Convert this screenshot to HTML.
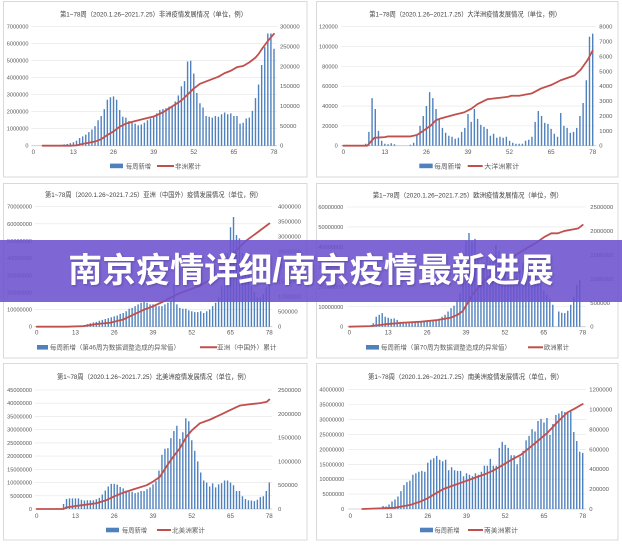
<!DOCTYPE html>
<html><head><meta charset="utf-8">
<style>
html,body{margin:0;padding:0;background:#fff;}
#wrap{position:relative;width:622px;height:545px;overflow:hidden;background:#fff;}
svg{position:absolute;left:0;top:0;}
svg text{font-family:"Liberation Sans","Noto Sans CJK SC",sans-serif;}
.t{font-size:6.6px;fill:#404040;}
.l{font-size:5.6px;fill:#595959;text-anchor:end;}
.r{font-size:5.9px;fill:#595959;text-anchor:start;}
.x{font-size:6.2px;fill:#595959;text-anchor:middle;}
.g{font-size:6.3px;fill:#595959;}
#banner{position:absolute;left:0;top:240px;width:622px;height:62px;background:rgba(108,82,206,0.88);
color:#fff;font-family:"Liberation Sans","Noto Sans CJK SC",sans-serif;font-weight:bold;font-size:34px;
line-height:62px;text-align:center;letter-spacing:0px;text-shadow:1px 1px 2px rgba(40,20,90,0.35);}
</style></head><body>
<div id="wrap">
<svg width="622" height="545" viewBox="0 0 622 545" xmlns="http://www.w3.org/2000/svg">
<g fill="none" stroke="#d9d9d9" stroke-width="1">
<rect x="3.5" y="1.5" width="303.5" height="175.5"/>
<rect x="316.5" y="1.5" width="301.5" height="175.5"/>
<rect x="3.5" y="183.5" width="303.5" height="174.5"/>
<rect x="316.5" y="183.5" width="301.5" height="174.5"/>
<rect x="3.5" y="363.5" width="303.5" height="176.5"/>
<rect x="316.5" y="363.5" width="301.5" height="176.5"/>
</g>
<g id="geo"></g>

<!-- titles -->
<text class="t" x="60" y="16.3" textLength="187" lengthAdjust="spacingAndGlyphs">第1~78周（2020.1.26~2021.7.25）非洲疫情发展情况（单位，例）</text>
<text class="t" x="369.3" y="16.3" textLength="191.7" lengthAdjust="spacingAndGlyphs">第1~78周（2020.1.26~2021.7.25）大洋洲疫情发展情况（单位，例）</text>
<text class="t" x="45" y="197" textLength="217" lengthAdjust="spacingAndGlyphs">第1~78周（2020.1.26~2021.7.25）亚洲（中国外）疫情发展情况（单位，例）</text>
<text class="t" x="372.7" y="197.3" textLength="190" lengthAdjust="spacingAndGlyphs">第1~78周（2020.1.26~2021.7.25）欧洲疫情发展情况（单位，例）</text>
<text class="t" x="57" y="379" textLength="193" lengthAdjust="spacingAndGlyphs">第1~78周（2020.1.26~2021.7.25）北美洲疫情发展情况（单位，例）</text>
<text class="t" x="368" y="379" textLength="195" lengthAdjust="spacingAndGlyphs">第1~78周（2020.1.26~2021.7.25）南美洲疫情发展情况（单位，例）</text>

<!-- panel 1 axes -->
<g class="l" transform="translate(28.5,2)">
<text y="26.7">7000000</text><text y="43.7">6000000</text><text y="60.7">5000000</text><text y="77.7">4000000</text><text y="94.7">3000000</text><text y="111.7">2000000</text><text y="128.7">1000000</text><text y="145.7">0</text></g>
<g class="r" transform="translate(280,2)">
<text y="26.7">300000</text><text y="46.5">250000</text><text y="66.4">200000</text><text y="86.2">150000</text><text y="106">100000</text><text y="125.9">50000</text><text y="145.7">0</text></g>
<g class="x" transform="translate(0,154.2)">
<text x="33.3">0</text><text x="73.4">13</text><text x="113.5">26</text><text x="153.7">39</text><text x="193.8">52</text><text x="233.9">65</text><text x="274">78</text></g>

<!-- panel 2 axes -->
<g class="l" transform="translate(337.7,2)">
<text y="26.7">120000</text><text y="46.5">100000</text><text y="66.4">80000</text><text y="86.2">60000</text><text y="106">40000</text><text y="125.9">20000</text><text y="145.7">0</text></g>
<g class="r" transform="translate(599.3,2)">
<text y="26.7">8000</text><text y="41.6">7000</text><text y="56.5">6000</text><text y="71.3">5000</text><text y="86.2">4000</text><text y="101.1">3000</text><text y="116">2000</text><text y="130.8">1000</text><text y="145.7">0</text></g>
<g class="x" transform="translate(0,154.2)">
<text x="343.3">0</text><text x="384.9">13</text><text x="426.4">26</text><text x="468">39</text><text x="509.5">52</text><text x="551.1">65</text><text x="592.7">78</text></g>

<!-- panel 3 axes -->
<g class="l" transform="translate(32,2)">
<text y="206.7">70000000</text><text y="223.8">60000000</text><text y="241">50000000</text><text y="258.1">40000000</text><text y="275.3">30000000</text><text y="292.4">20000000</text><text y="309.6">10000000</text><text y="326.7">0</text></g>
<g class="r" transform="translate(278,2)">
<text y="206.7">4000000</text><text y="221.7">3500000</text><text y="236.7">3000000</text><text y="251.7">2500000</text><text y="266.7">2000000</text><text y="281.7">1500000</text><text y="296.7">1000000</text><text y="311.7">500000</text><text y="326.7">0</text></g>
<g class="x" transform="translate(0,334.5)">
<text x="36.7">0</text><text x="75.5">13</text><text x="114.2">26</text><text x="153">39</text><text x="191.8">52</text><text x="230.5">65</text><text x="269.3">78</text></g>

<!-- panel 4 axes -->
<g class="l" transform="translate(343.3,2)">
<text y="207">60000000</text><text y="226.95">50000000</text><text y="246.9">40000000</text><text y="266.85">30000000</text><text y="286.8">20000000</text><text y="306.75">10000000</text><text y="326.7">0</text></g>
<g class="r" transform="translate(590.3,2)">
<text y="207">2500000</text><text y="230.9">2000000</text><text y="254.9">1500000</text><text y="278.8">1000000</text><text y="302.8">500000</text><text y="326.7">0</text></g>
<g class="x" transform="translate(0,334.5)">
<text x="349.3">0</text><text x="388.2">13</text><text x="427.1">26</text><text x="466">39</text><text x="504.9">52</text><text x="543.8">65</text><text x="582.7">78</text></g>

<!-- panel 5 axes -->
<g class="l" transform="translate(32,2)">
<text y="390">45000000</text><text y="403.2">40000000</text><text y="416.4">35000000</text><text y="429.7">30000000</text><text y="442.9">25000000</text><text y="456.1">20000000</text><text y="469.3">15000000</text><text y="482.6">10000000</text><text y="495.8">5000000</text><text y="509">0</text></g>
<g class="r" transform="translate(278,2)">
<text y="390">2500000</text><text y="413.8">2000000</text><text y="437.6">1500000</text><text y="461.4">1000000</text><text y="485.2">500000</text><text y="509">0</text></g>
<g class="x" transform="translate(0,517.9)">
<text x="36.7">0</text><text x="75.5">13</text><text x="114.2">26</text><text x="153">39</text><text x="191.8">52</text><text x="230.5">65</text><text x="269.3">78</text></g>

<!-- panel 6 axes -->
<g class="l" transform="translate(344.3,2)">
<text y="389.7">40000000</text><text y="404.6">35000000</text><text y="419.5">30000000</text><text y="434.4">25000000</text><text y="449.35">20000000</text><text y="464.3">15000000</text><text y="479.2">10000000</text><text y="494.1">5000000</text><text y="509">0</text></g>
<g class="r" transform="translate(589.3,2)">
<text y="389.7">1200000</text><text y="409.6">1000000</text><text y="429.5">800000</text><text y="449.35">600000</text><text y="469.2">400000</text><text y="489.1">200000</text><text y="509">0</text></g>
<g class="x" transform="translate(0,517.9)">
<text x="350.3">0</text><text x="389">13</text><text x="427.8">26</text><text x="466.5">39</text><text x="505.2">52</text><text x="544">65</text><text x="582.7">78</text></g>

<!-- legends -->
<g>
<rect x="110" y="163.6" width="13" height="4.6" fill="#4f81bd"/>
<text class="g" x="126" y="168.3" textLength="25" lengthAdjust="spacingAndGlyphs">每周新增</text>
<line x1="157" y1="166" x2="174" y2="166" stroke="#c0504d" stroke-width="2"/>
<text class="g" x="175" y="168.3" textLength="26" lengthAdjust="spacingAndGlyphs">非洲累计</text>

<rect x="419.3" y="163.6" width="13.4" height="4.6" fill="#4f81bd"/>
<text class="g" x="434.3" y="168.3" textLength="26.7" lengthAdjust="spacingAndGlyphs">每周新增</text>
<line x1="467.7" y1="166" x2="482.7" y2="166" stroke="#c0504d" stroke-width="2"/>
<text class="g" x="484.3" y="168.3" textLength="35" lengthAdjust="spacingAndGlyphs">大洋洲累计</text>

<rect x="37" y="345" width="11" height="4.6" fill="#4f81bd"/>
<text class="g" x="50" y="349.6" textLength="130" lengthAdjust="spacingAndGlyphs">每周新增（第46周为数据调整造成的异常值）</text>
<line x1="200" y1="347.3" x2="217" y2="347.3" stroke="#c0504d" stroke-width="2"/>
<text class="g" x="217" y="349.6" textLength="59.5" lengthAdjust="spacingAndGlyphs">亚洲（中国外）累计</text>

<rect x="366" y="345" width="13" height="4.6" fill="#4f81bd"/>
<text class="g" x="381" y="349.6" textLength="130" lengthAdjust="spacingAndGlyphs">每周新增（第70周为数据调整造成的异常值）</text>
<line x1="528" y1="347.3" x2="543" y2="347.3" stroke="#c0504d" stroke-width="2"/>
<text class="g" x="544" y="349.6" textLength="25" lengthAdjust="spacingAndGlyphs">欧洲累计</text>

<rect x="106" y="527.7" width="13" height="4.6" fill="#4f81bd"/>
<text class="g" x="122" y="532.3" textLength="25" lengthAdjust="spacingAndGlyphs">每周新增</text>
<line x1="157" y1="530" x2="171" y2="530" stroke="#c0504d" stroke-width="2"/>
<text class="g" x="172" y="532.3" textLength="33" lengthAdjust="spacingAndGlyphs">北美洲累计</text>

<rect x="420" y="527.7" width="13" height="4.6" fill="#4f81bd"/>
<text class="g" x="434.5" y="532.3" textLength="25" lengthAdjust="spacingAndGlyphs">每周新增</text>
<line x1="468" y1="530" x2="483" y2="530" stroke="#c0504d" stroke-width="2"/>
<text class="g" x="484" y="532.3" textLength="34" lengthAdjust="spacingAndGlyphs">南美洲累计</text>
</g>
</svg>
<div id="banner">南京疫情详细/南京疫情最新进展</div>
</div>
<script>
(function(){
var NS='http://www.w3.org/2000/svg';
var g=document.getElementById('geo');
function el(t,a){var e=document.createElementNS(NS,t);for(var k in a)e.setAttribute(k,a[k]);g.appendChild(e);return e;}
function arr(start,vals){var a=[];for(var i=0;i<=78;i++)a.push(0);for(var j=0;j<vals.length;j++)a[start+j]=vals[j];return a;}
var P=[
{x0:33.3,x1:274,yT:26.7,yB:145.7,n:7,max:7,
 b:arr(9,[0.05,0.08,0.1,0.15,0.2,0.3,0.45,0.55,0.65,0.8,0.95,1.15,
 1.5,1.75,2.15,2.7,2.85,2.9,2.7,2.1,1.7,1.65,
 1.45,1.35,1.3,1.2,1.25,1.35,1.5,1.6,1.75,1.9,
 2.1,2.15,2.2,2.3,2.35,2.6,2.95,3.5,3.8,4.95,
 5.0,4.25,3.1,2.5,2.25,1.75,1.7,1.65,1.75,1.7,
 1.85,1.95,1.85,1.9,1.75,1.75,1.3,1.35,1.6,1.65,
 2.05,2.8,3.6,4.75,5.8,6.6,6.6,5.7]),
 l:[[3,0],[12,0],[14,0.003],[16,0.015],[18,0.025],[20,0.035],[22,0.055],[24,0.09],[26,0.12],[28,0.16],[30,0.185],[32,0.2],[35,0.22],[39,0.245],[42,0.28],[45,0.33],[48,0.38],[50,0.43],[52,0.48],[54,0.52],[56,0.54],[58,0.56],[60,0.58],[62,0.61],[64,0.63],[66,0.66],[68,0.67],[70,0.7],[72,0.74],[73,0.77],[74,0.81],[76,0.88],[78,0.94]]},
{x0:343.3,x1:592.7,yT:26.7,yB:145.7,n:6,max:120,
 b:arr(7,[2,14,48,37,15,5,2,1.5,2.5,1.5,0,0,0,0,
 1,3,11,20,30,40,54,48,37,27,
 18,13,10,9,7,8,14,18,32,24,
 37,27,21,19,17,10,12,8,9,8,
 9,5,3,2,2,2,5,6,9,24,
 35,30,23,22,17,12,9,33,20,18,
 13,14,18,30,43,66,110,113]),
 l:[[0,0],[7.5,0],[8.5,0.03],[9.7,0.067],[13,0.072],[14,0.078],[21,0.078],[23,0.09],[25,0.125],[27.4,0.17],[29,0.215],[30.6,0.23],[34.7,0.26],[37.8,0.28],[40,0.31],[42,0.35],[45,0.39],[48,0.4],[51.4,0.41],[52.5,0.42],[55,0.42],[59,0.44],[61.8,0.48],[65,0.51],[68,0.55],[72.3,0.59],[74.3,0.64],[76.4,0.72],[78,0.8]]},
{x0:36.7,x1:269.3,yT:206.7,yB:326.7,n:7,max:70,
 b:arr(10,[0.3,0.5,0.5,0.6,0.7,0.8,1.0,1.5,2.0,2.5,2.8,
 3.5,4.0,4.5,5.0,5.5,6.0,6.5,7.5,8.0,9.0,
 10.5,11,12,13,14,14.5,14,13,13,12,
 12,12,13,14,15,25,13,11,10.5,10.5,
 9.5,9,8.5,8.5,9,8,9,10,12,14,
 17,24,35,43,58,64,53.5,51.5,43,36,
 30,24,20,17,17,19,23,25]),
 l:[[0,0],[10,0],[15.6,0.005],[20,0.022],[24.6,0.033],[29,0.06],[32.4,0.1],[35.8,0.14],[39,0.17],[42.5,0.21],[44.7,0.24],[48,0.28],[51.4,0.31],[54.7,0.34],[58,0.39],[61.5,0.44],[64.8,0.54],[67,0.64],[70.4,0.72],[73.7,0.78],[78,0.86]]},
{x0:349.3,x1:582.7,yT:207,yB:326.7,n:6,max:60,
 b:arr(7,[0.3,1.7,5,6,6.8,5,4.5,4,4.2,3.4,2.5,2.5,2.3,2.3,
 2.5,2.5,2.8,2.8,2.5,2.8,3.0,3.4,3.4,4,
 5,6,7.6,9.3,10.5,13,17,27,43,47,
 43,44,36,30,32,35,33,36,41,38,
 31,28,25,24,24,26,28,32,34,33,
 31,28,24,21,18,16,14,11,0,7.6,
 7,6.8,8,11,15,21,23.6]),
 l:[[0,0],[7,0.005],[12.8,0.022],[18.4,0.034],[24,0.042],[29.5,0.056],[34,0.076],[36.2,0.1],[37.9,0.13],[39.6,0.2],[41.2,0.27],[42.9,0.32],[46.3,0.41],[49.6,0.49],[53,0.56],[56.3,0.61],[59.6,0.66],[62.4,0.7],[65.2,0.75],[67.5,0.78],[69.7,0.78],[71.9,0.8],[74.1,0.81],[76.4,0.82],[78,0.85]]},
{x0:36.7,x1:269.3,yT:390,yB:509,n:9,max:45,
 b:arr(9,[1.9,3.8,4,4,4,4,3.5,3.2,3.3,3.3,3.3,3.7,
 4.2,5.5,7,8.5,9.5,9.5,9.2,8.3,7.8,7,
 6.5,6.5,6,6.3,6.8,6.8,7.5,8.2,9.3,10.5,
 14.5,20.5,22.8,23,26.8,29.5,31.5,26.5,29,34.3,
 33.2,26,22,18,13.8,10.8,10,8.5,9.7,8.2,
 9.3,9.8,10.8,10.8,10,9,6.8,6.8,4.8,3.8,
 3.3,3.2,3,3.5,4.5,4.8,6.8,10]),
 l:[[0,0],[9,0],[10,0.014],[14.5,0.03],[20,0.048],[23.5,0.076],[26.3,0.11],[29,0.137],[32.4,0.165],[36.9,0.2],[39,0.23],[41.3,0.27],[43.6,0.36],[45.8,0.44],[48,0.51],[50.3,0.61],[52,0.66],[54.7,0.72],[58,0.75],[61.5,0.79],[64.8,0.83],[68.2,0.87],[71.5,0.88],[74.9,0.89],[77.1,0.9],[78,0.92]]},
{x0:350.3,x1:582.7,yT:389.7,yB:509,n:8,max:40,
 b:arr(11,[1,0.9,1.5,2.5,3.2,4.2,6,8,9,9.5,
 11.5,12,12.5,12.8,12.5,15.5,16.5,17,17.8,16.5,
 16,16.5,13,14,13,12.8,12.8,11,12,11.5,
 11,12,11.5,12.5,14.5,14.5,16.8,14.5,14.5,20.5,
 22.5,21.5,20.5,18,18,15,17.5,19.5,23,24.5,
 26.8,26,29.5,30.2,29,30.5,24.8,28.5,31.5,32,
 32.8,32.5,32.5,33,25.8,22.8,19.2,18.8]),
 l:[[4,0],[14.8,0.01],[17,0.02],[20.4,0.036],[23.7,0.064],[26,0.09],[29.3,0.14],[31.5,0.17],[34.9,0.2],[38.3,0.23],[41.6,0.26],[45,0.29],[47.8,0.32],[50.6,0.36],[53.9,0.41],[57.3,0.455],[59.5,0.5],[62.9,0.57],[66.2,0.64],[69.6,0.73],[72.9,0.81],[75.2,0.84],[78,0.88]]}
];
P.forEach(function(p){
 var h=p.yB-p.yT, st=(p.x1-p.x0)/78;
 for(var i=0;i<=p.n;i++){
  var y=p.yT+h*i/p.n;
  el('line',{x1:p.x0-2,x2:p.x1+3,y1:y,y2:y,stroke:i==p.n?'#c8c8c8':'#e4e4e4','stroke-width':i==p.n?0.8:0.6});
 }
 var d='';
 p.b.forEach(function(v,i){
  if(v>0){var bh=v/p.max*h; if(bh>h)bh=h;
   d+='M'+(p.x0+i*st-0.7).toFixed(2)+' '+p.yB.toFixed(2)+'h1.4v'+(-bh).toFixed(2)+'h-1.4z';}
 });
 el('path',{d:d,fill:'#4f81bd'});
 var pts=p.l.map(function(q){return (p.x0+q[0]*st).toFixed(2)+','+(p.yB-q[1]*h).toFixed(2);}).join(' ');
 el('polyline',{points:pts,fill:'none',stroke:'#c0504d','stroke-width':1.8,'stroke-linejoin':'round','stroke-linecap':'round'});
});
})();
</script>
</body></html>
